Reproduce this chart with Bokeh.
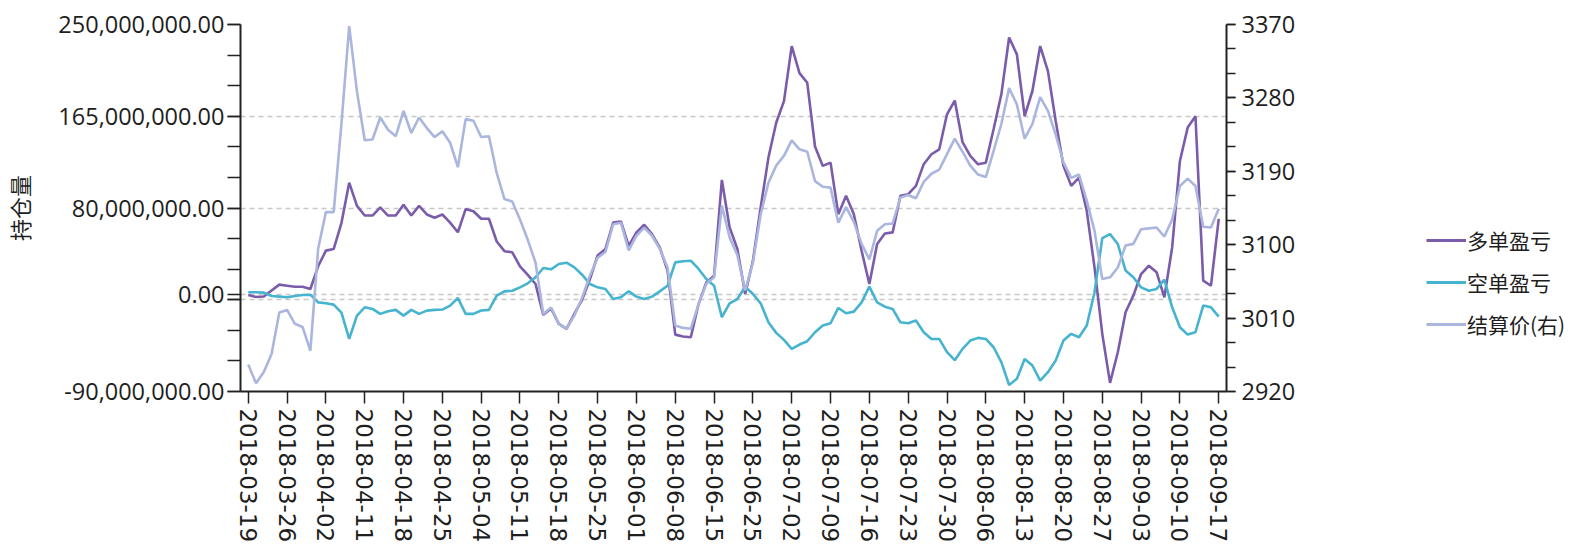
import numpy as np
import pandas as pd
from bokeh.plotting import figure
from bokeh.layouts import row
from bokeh.models import (ColumnDataSource, Range1d, LinearAxis, FixedTicker,
                          NumeralTickFormatter, Legend, LegendItem)
from bokeh.embed import file_html
from bokeh.resources import INLINE

# trading days 2018-03-19 .. 2018-09-17 (exchange holidays removed)
holidays = ["2018-04-05", "2018-04-06", "2018-04-30", "2018-05-01", "2018-06-18"]
dates = [d.strftime("%Y-%m-%d") for d in pd.bdate_range("2018-03-19", "2018-09-17")
         if d.strftime("%Y-%m-%d") not in holidays]

# 多单盈亏 (millions)
long_pnl_m = [
    -0.5, -2.5, -2, 3.5, 9, 8, 7, 7, 5, 26,
    40.5, 42, 66, 103.5, 82, 73, 73, 80.5, 73, 73,
    83, 73, 82, 74, 71, 74, 66.5, 57.5, 79, 77,
    70, 70, 49, 40, 39, 26, 18, 9.6, -19, -13,
    -27.4, -32, -18, -5, 14, 36, 42, 66.5, 67.5, 45,
    57.4, 64.5, 55.8, 43.5, 22, -37.3, -39, -39.7, -9, 11,
    17.3, 106, 62, 42, 0.3, 31, 80.5, 126.7, 159, 179,
    230, 205, 196, 137, 119, 122, 74.3, 91.3, 74.3, 40.4,
    9.6, 46.6, 56.4, 57.4, 91.3, 92.8, 100.5, 120.6, 129.8, 134.4,
    166.8, 179.5, 141, 128.3, 120.5, 122, 152.9, 185.3, 238, 222.3,
    165.2, 188.4, 230, 206.8, 160.6, 119, 100.5, 108.2, 77.4, 25,
    -36.6, -82, -53.6, -16.6, -1.2, 18.8, 26.5, 20.4, -2.7, 43.5,
    123.6, 154.5, 165, 12.7, 8, 70,
]

# 空单盈亏 (millions)
short_pnl_m = [
    1.9, 1.9, 1.6, -1.5, -2.1, -2.7, -1.5, -0.6, -0.3, -7.4,
    -8.3, -9.5, -17, -41.3, -19.7, -12, -13.5, -18.1, -15.7, -14.4,
    -19.7, -14.4, -18.1, -15.1, -14.4, -14.1, -10.4, -3.4, -18.1, -18.1,
    -15, -14.4, -1.2, 2.8, 3.4, 6.5, 10.2, 15.8, 24.4, 23.2,
    28.1, 29.3, 25, 18.2, 9.6, 6.5, 5, -4.3, -2.7, 2.8,
    -2.1, -4.3, -2.1, 2.8, 8, 29.6, 30.6, 31.2, 23.5, 14.2,
    8, -21.2, -8.3, -4.3, 7.1, 0.3, -8.3, -25.9, -35.7, -42.2,
    -50.5, -46.5, -43.4, -35.1, -28.9, -26.8, -12.6, -17.5, -16, -7.4,
    7.1, -7.4, -11.4, -13.5, -25.9, -26.8, -24.3, -35.1, -41.3, -41.3,
    -53.6, -61, -50.5, -42.8, -40.3, -41.3, -49, -62.8, -84, -78.2,
    -59.8, -65.9, -80, -72.1, -61.3, -42.8, -36.6, -39.7, -28.9, 1.9,
    52.1, 55.8, 46.6, 22, 15.8, 6.5, 3.4, 5, 13.6, -12,
    -30.5, -37.3, -35.1, -10.4, -12, -20.6,
]

# 结算价(右)
settle = [
    2953, 2930, 2944, 2966, 3017, 3020, 3003, 2999, 2970, 3095,
    3140, 3140, 3248, 3368, 3288, 3228, 3229, 3256, 3241, 3233,
    3264, 3237, 3256, 3243, 3232, 3239, 3225, 3195, 3254, 3252,
    3232, 3233, 3188, 3156, 3153, 3131, 3106, 3078, 3015, 3023,
    3003, 2997, 3013, 3035, 3062, 3084, 3091, 3125, 3127, 3093,
    3111, 3121, 3111, 3095, 3072, 3001, 2998, 2997, 3027, 3052,
    3060, 3148, 3109, 3087, 3044, 3078, 3137, 3176, 3197, 3209,
    3228, 3217, 3214, 3178, 3171, 3170, 3127, 3146, 3128, 3101,
    3082, 3117, 3125, 3126, 3158, 3161, 3157, 3177, 3187, 3192,
    3211, 3230, 3214, 3197, 3186, 3183, 3215, 3248, 3292, 3272,
    3230, 3248, 3281, 3264, 3235, 3201, 3182, 3186, 3154, 3117,
    3058, 3060, 3072, 3099, 3101, 3119, 3120, 3121, 3110, 3131,
    3172, 3181, 3172, 3122, 3121, 3144,
]

left_ticks_m = [-90, -5, 0, 80, 165, 250]
left_minor_step_m = 85 / 3
right_ticks = [2920, 3010, 3100, 3190, 3280, 3370]
right_minor_step = 30
series_names = ["多单盈亏", "空单盈亏", "结算价(右)"]
colors = ["#7a5caa", "#46b3cf", "#abb6de"]

n = len(dates)
src = ColumnDataSource(dict(
    x=list(range(n)),
    long=[v * 1e6 for v in long_pnl_m],
    short=[v * 1e6 for v in short_pnl_m],
    settle=settle,
))

H = 545
FL, FT, FW, FH = 236, 24, 990, 368
RB = 80
W1 = FL + FW + RB
W2 = 1569 - W1

p = figure(width=W1, height=H, output_backend="svg", toolbar_location=None,
           x_range=Range1d(-1, 126), y_range=Range1d(-90e6, 250e6),
           min_border_left=FL, min_border_top=FT,
           min_border_right=RB, min_border_bottom=H - FT - FH)
p.outline_line_color = None
p.background_fill_color = "white"
p.border_fill_color = "white"
p.extra_y_ranges = {"price": Range1d(2920, 3370)}

TXT = "#1e1e1e"
AX = "#222222"

# left axis
lax = p.yaxis[0]
lminor = [(-90 + k * left_minor_step_m) * 1e6 for k in range(13)]
lax.ticker = FixedTicker(ticks=[t * 1e6 for t in left_ticks_m], minor_ticks=lminor)
lax.formatter = NumeralTickFormatter(format="0,0.00")
lax.major_label_overrides = {-5000000: ""}
lax.axis_label = "持仓量"
lax.axis_label_text_font = "Noto Sans CJK SC"
lax.axis_label_text_font_size = "22px"
lax.axis_label_text_font_style = "normal"
lax.axis_label_text_color = TXT
lax.axis_label_standoff = 20

# right axis
rax = LinearAxis(y_range_name="price")
rminor = [2920 + k * right_minor_step for k in range(16)]
rax.ticker = FixedTicker(ticks=right_ticks, minor_ticks=rminor)
p.add_layout(rax, "right")

for ax, tl in ((lax, 13), (rax, 9)):
    ax.major_label_text_font = "Open Sans"
    ax.major_label_text_font_size = "23.5px"
    ax.major_label_text_color = TXT
    ax.major_tick_out = tl
    ax.major_tick_in = 0
    ax.minor_tick_out = tl
    ax.minor_tick_in = 0
    ax.axis_line_width = 2
    ax.axis_line_color = AX
    ax.major_tick_line_color = AX
    ax.minor_tick_line_color = AX
    ax.major_tick_line_width = 1.5
    ax.minor_tick_line_width = 1.5
lax.major_label_standoff = 3
rax.major_label_standoff = 6

# bottom axis
xax = p.xaxis[0]
xticks = list(range(0, n, 5))
xax.ticker = FixedTicker(ticks=xticks, minor_ticks=[])
xax.major_label_overrides = {i: dates[i] for i in xticks}
xax.major_label_orientation = -np.pi / 2
xax.major_label_text_font = "DejaVu Sans"
xax.major_label_text_font_size = "23px"
xax.major_label_text_color = TXT
xax.major_label_standoff = 5
xax.major_tick_out = 12
xax.major_tick_in = 0
xax.minor_tick_line_color = None
xax.axis_line_width = 2
xax.axis_line_color = AX
xax.major_tick_line_color = AX
xax.major_tick_line_width = 1.5

# grid
p.xgrid.visible = False
p.ygrid.ticker = lax.ticker
p.ygrid.grid_line_color = "#c8c8c8"
p.ygrid.grid_line_dash = "5 4"
p.ygrid.grid_line_width = 1.5

r1 = p.line("x", "long", source=src, color=colors[0], line_width=2.6)
r2 = p.line("x", "short", source=src, color=colors[1], line_width=2.6)
r3 = p.line("x", "settle", source=src, color=colors[2], line_width=2.6, y_range_name="price")

# legend panel (separate canvas to the right of the chart; its frame is
# row-aligned with the chart frame)
p2 = figure(width=W2, height=H, output_backend="svg", toolbar_location=None,
            x_range=Range1d(0, 1), y_range=Range1d(0, 1),
            x_axis_location=None, y_axis_location=None, min_border=0)
p2.outline_line_color = None
p2.xgrid.visible = False
p2.ygrid.visible = False
key_src = ColumnDataSource(dict(x=[np.nan], y=[np.nan]))
lr = [p2.line("x", "y", source=key_src, color=c, line_width=3) for c in colors]

legend = Legend(items=[LegendItem(label=nm, renderers=[r]) for nm, r in zip(series_names, lr)],
                location=(120, 50), orientation="vertical",
                label_text_font="Noto Sans CJK SC", label_text_font_size="21px",
                label_text_color=TXT,
                glyph_width=40, glyph_height=34, label_height=34, spacing=8,
                label_standoff=1, padding=0, margin=0,
                border_line_color=None, background_fill_alpha=0)
p2.add_layout(legend)

layout = row(p, p2, spacing=0)
open("out.html", "w").write(file_html(layout, INLINE))
